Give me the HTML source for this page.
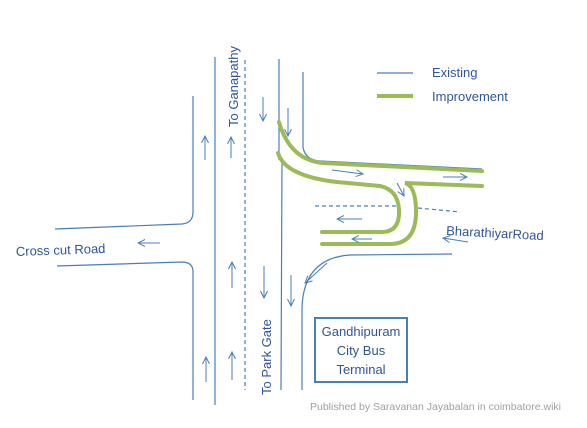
<!DOCTYPE html>
<html><head><meta charset="utf-8"><style>
html,body{margin:0;padding:0;background:#fff;}
svg{display:block;font-family:"Liberation Sans",sans-serif;}
</style></head><body>
<svg width="587" height="428" viewBox="0 0 587 428">
<defs>
<marker id="ah" markerWidth="8" markerHeight="8" refX="7" refY="4" orient="auto" markerUnits="userSpaceOnUse">
<path d="M0,0.5 L7,4 L0,7.5" fill="none" stroke="#4a7ebb" stroke-width="1"/>
</marker>
</defs>
<g fill="none" stroke="#4a7ebb" stroke-width="1.2">
<path d="M193,96 L193,212 Q193,223 182,224 L55,229"/>
<path d="M57,266 L182,262 Q193,262 193,272 L193,400"/>
<path d="M215,57 L215,405"/>
<path d="M245,60 L245,390" stroke-dasharray="4,3"/>
<path d="M279,59 L279,160 M282,158 L281,390"/>
<path d="M303,72 L303,147 Q305,160 320,161 L482,169"/>
<path d="M452,254 L350,255 Q304,258 302,307 L302,390"/>
<path d="M315,206 L400,206 M418,208 L460,212" stroke-dasharray="4,3"/>
</g>
<g fill="none" stroke="#9bbb59" stroke-width="4" stroke-linecap="round">
<path d="M279,122 Q290,160 323,163 L482,171"/>
<path d="M278,153 Q285,176 337,182 L380,186 Q398,190 399,210 Q400,231 383,232 L322,232"/>
<path d="M482,186 L405,183 Q416,186 416,212 Q416,244 390,244 L322,244"/>
</g>
<g stroke="#4a7ebb" stroke-width="1" marker-end="url(#ah)">
<line x1="205" y1="160" x2="205" y2="136"/>
<line x1="231" y1="158" x2="231" y2="137"/>
<line x1="263" y1="97" x2="263" y2="121"/>
<line x1="288" y1="108" x2="288" y2="136"/>
<line x1="332" y1="170" x2="363" y2="174"/>
<line x1="443" y1="177" x2="467" y2="177"/>
<line x1="397" y1="183" x2="404" y2="196"/>
<line x1="362" y1="219" x2="337" y2="219"/>
<line x1="372" y1="239" x2="352" y2="239"/>
<line x1="468" y1="242" x2="443" y2="238"/>
<line x1="160" y1="243" x2="138" y2="243"/>
<line x1="327" y1="263" x2="305" y2="283"/>
<line x1="291" y1="275" x2="291" y2="306"/>
<line x1="264" y1="266" x2="264" y2="298"/>
<line x1="232" y1="288" x2="232" y2="262"/>
<line x1="232" y1="380" x2="232" y2="352"/>
<line x1="206" y1="382" x2="206" y2="357"/>
</g>
<g>
<line x1="377" y1="73" x2="413" y2="73" stroke="#4a7ebb" stroke-width="1.2"/>
<text x="432" y="77" font-size="13" fill="#2f5597">Existing</text>
<line x1="377" y1="96" x2="413" y2="96" stroke="#9bbb59" stroke-width="4"/>
<text x="432" y="101" font-size="13" fill="#2f5597">Improvement</text>
</g>
<text transform="translate(238,127) rotate(-90)" font-size="13" fill="#2f5597">To Ganapathy</text>
<text transform="translate(271,395) rotate(-90)" font-size="13" fill="#2f5597">To Park Gate</text>
<text transform="translate(16,256) rotate(-2)" font-size="13" fill="#2f5597">Cross cut Road</text>
<text transform="translate(446,235) rotate(3)" font-size="13" fill="#2f5597">BharathiyarRoad</text>
<rect x="315" y="318" width="92" height="64" fill="#fff" stroke="#4a7ebb" stroke-width="2"/>
<g font-size="13" fill="#2f5597" text-anchor="middle">
<text x="361" y="336">Gandhipuram</text>
<text x="361" y="355">City Bus</text>
<text x="361" y="374">Terminal</text>
</g>
<text x="310" y="410" font-size="10.5" fill="#a0a0a0">Published by Saravanan Jayabalan in coimbatore.wiki</text>
</svg>
</body></html>
